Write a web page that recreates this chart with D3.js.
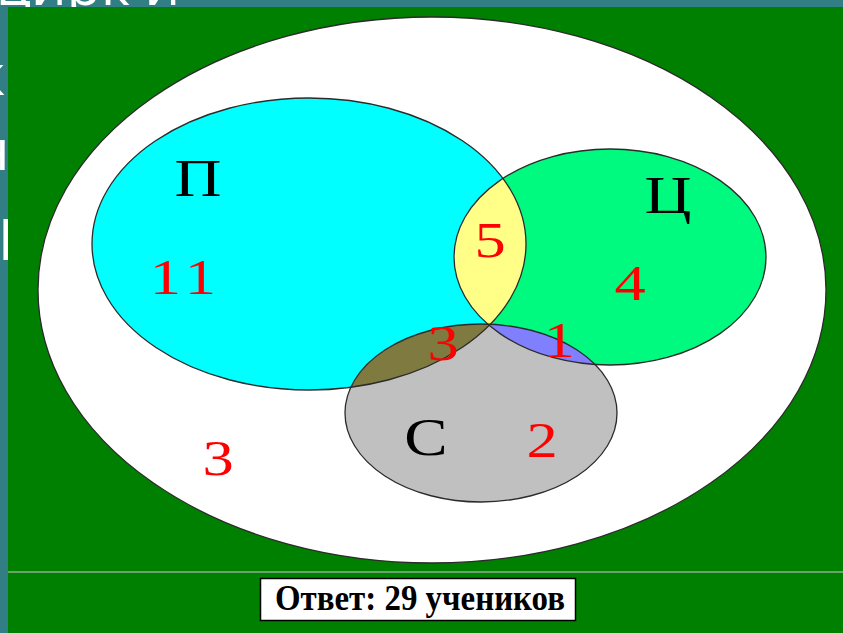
<!DOCTYPE html>
<meta charset="utf-8">
<style>

html, body {
  margin: 0;
  padding: 0;
  background: #317f84;
}

.outline {
  fill: none;
  stroke: #2b2b2b;
  stroke-width: 1.3px;
}

.set-name {
  font-family: "Liberation Serif", "Times New Roman", serif;
  font-size: 52px;
  fill: #000;
  text-anchor: middle;
}

.count {
  font-family: "Liberation Serif", "Times New Roman", serif;
  font-size: 50px;
  fill: #f00;
  text-anchor: middle;
}

.slide-text {
  font-family: "Open Sans", "DejaVu Sans", sans-serif;
  font-size: 56px;
  fill: #fff;
}

.answer {
  font-family: "Liberation Serif", "Times New Roman", serif;
  font-weight: bold;
  font-size: 36px;
  fill: #000;
  text-anchor: middle;
}

</style>
<body><svg width="843" height="633"></svg></body>
<script src="https://d3js.org/d3.v7.min.js"></script>
<script>

// sets and region counts
var sets = ["П", "Ц", "С"];
var setKeys = ["p", "c", "s"];
var regions = ["p", "c", "s", "pc", "ps", "cs", "none"];
var counts = [11, 4, 2, 5, 3, 1, 3];
var answerWords = ["Ответ:", "учеников"];

// layout of the drawing, in pixels
var svg = d3.select("svg"),
    width = +svg.attr("width"),
    height = +svg.attr("height");

var universe = {cx: 432, cy: 290, rx: 394, ry: 273};
var shapes = {
  p: {cx: 309, cy: 244, rx: 217, ry: 146, fill: "#00ffff"},
  c: {cx: 610, cy: 257, rx: 156, ry: 108, fill: "#00fa80"},
  s: {cx: 481, cy: 413, rx: 136, ry: 89, fill: "#c0c0c0"}
};
var overlaps = [
  {shape: "c", clip: "p", fill: "#ffff88"},
  {shape: "s", clip: "p", fill: "#7f7a40"},
  {shape: "s", clip: "c", fill: "#8080ff"}
];
var namePos = {p: [198, 196], c: [668, 213], s: [426, 455]};
var countPos = {
  p: [186, 294], c: [630, 300], s: [542, 457],
  pc: [490, 257], ps: [443, 360], cs: [559, 357], none: [218, 475]
};
var stretch = 1.25;

// slide background peeking out at the top and left edge
svg.append("text").attr("class", "slide-text").attr("x", -4).attr("y", 5).text("цирк и");
svg.append("text").attr("class", "slide-text").attr("x", -24).attr("y", 95).text("к");
svg.append("text").attr("class", "slide-text").attr("x", -26).attr("y", 170).text("н");
svg.append("text").attr("class", "slide-text").attr("x", -2).attr("y", 260).text("I");

svg.append("rect")
    .attr("x", 8)
    .attr("y", 7)
    .attr("width", width - 8)
    .attr("height", height - 7)
    .attr("fill", "#008000");

svg.append("line")
    .attr("x1", 8).attr("x2", width)
    .attr("y1", 572).attr("y2", 572)
    .attr("stroke", "#8fb08f")
    .attr("stroke-width", 1.5);

var defs = svg.append("defs");
setKeys.forEach(function(k) {
  var e = shapes[k];
  defs.append("clipPath").attr("id", "clip-" + k)
    .append("ellipse")
      .attr("cx", e.cx).attr("cy", e.cy).attr("rx", e.rx).attr("ry", e.ry);
});

function ellipse(sel, e) {
  return sel.append("ellipse")
      .attr("cx", e.cx).attr("cy", e.cy).attr("rx", e.rx).attr("ry", e.ry);
}

ellipse(svg, universe).attr("fill", "#fff");

setKeys.forEach(function(k) {
  ellipse(svg, shapes[k]).attr("fill", shapes[k].fill);
});

overlaps.forEach(function(o) {
  ellipse(svg, shapes[o.shape])
      .attr("fill", o.fill)
      .attr("clip-path", "url(#clip-" + o.clip + ")");
});

ellipse(svg, universe).attr("class", "outline");
setKeys.forEach(function(k) {
  ellipse(svg, shapes[k]).attr("class", "outline");
});

function place(p) {
  return "translate(" + p[0] + "," + p[1] + ") scale(" + stretch + ",1)";
}

svg.selectAll(".set-name")
  .data(sets)
  .enter().append("text")
    .attr("class", "set-name")
    .attr("transform", function(d, i) { return place(namePos[setKeys[i]]); })
    .text(function(d) { return d; });

svg.selectAll(".count")
  .data(counts)
  .enter().append("text")
    .attr("class", "count")
    .attr("transform", function(d, i) { return place(countPos[regions[i]]); })
    .attr("letter-spacing", function(d) { return String(d).length > 1 ? 5 : 0; })
    .text(function(d) { return d; });

// answer box
svg.append("rect")
    .attr("x", 260.5)
    .attr("y", 578.5)
    .attr("width", 315)
    .attr("height", 42)
    .attr("fill", "#fff")
    .attr("stroke", "#000")
    .attr("stroke-width", 1.5);

svg.append("text")
    .attr("class", "answer")
    .attr("x", 420)
    .attr("y", 610)
    .attr("textLength", 290)
    .attr("lengthAdjust", "spacingAndGlyphs")
    .text(answerWords[0] + " " + d3.sum(counts) + " " + answerWords[1]);

</script>
